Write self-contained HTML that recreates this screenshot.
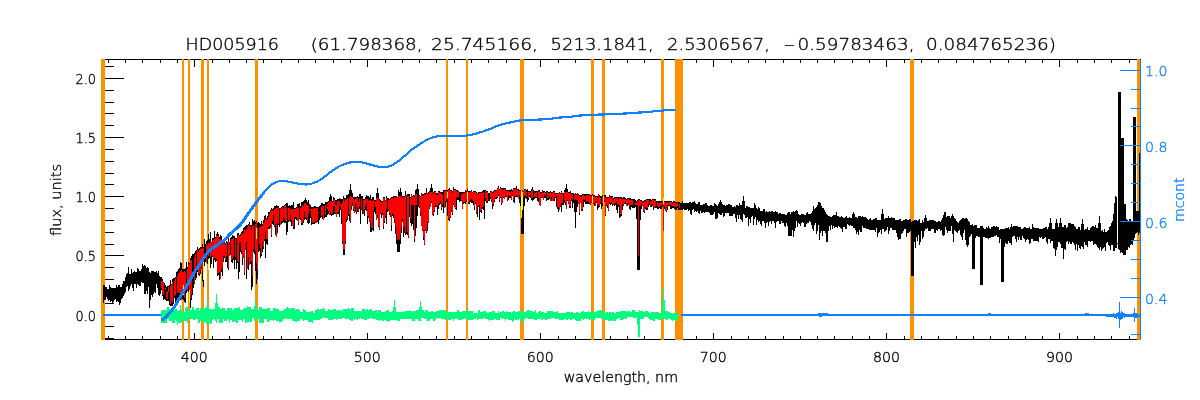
<!DOCTYPE html>
<html><head><meta charset="utf-8"><title>HD005916</title>
<style>html,body{margin:0;padding:0;background:#fff;overflow:hidden}svg{display:block}text{font-family:"DejaVu Sans","Liberation Sans",sans-serif;font-weight:200;stroke-width:.35px}</style></head><body>
<svg width="1200" height="400" viewBox="0 0 1200 400">
<rect width="1200" height="400" fill="#fff"/>
<g stroke="#000" stroke-width="1" shape-rendering="crispEdges" fill="none">
<path d="M103.5 59.5H1140.5M103.5 339.5H1140.5M103.5 59.5V339.5"/>
<path d="M108.5 59.5v3.5M108.5 339.5v-3.5M125.5 59.5v3.5M125.5 339.5v-3.5M142.5 59.5v3.5M142.5 339.5v-3.5M160.5 59.5v3.5M160.5 339.5v-3.5M177.5 59.5v3.5M177.5 339.5v-3.5M194.5 59.5v7.0M194.5 339.5v-7.0M212.5 59.5v3.5M212.5 339.5v-3.5M229.5 59.5v3.5M229.5 339.5v-3.5M246.5 59.5v3.5M246.5 339.5v-3.5M263.5 59.5v3.5M263.5 339.5v-3.5M281.5 59.5v3.5M281.5 339.5v-3.5M298.5 59.5v3.5M298.5 339.5v-3.5M315.5 59.5v3.5M315.5 339.5v-3.5M333.5 59.5v3.5M333.5 339.5v-3.5M350.5 59.5v3.5M350.5 339.5v-3.5M367.5 59.5v7.0M367.5 339.5v-7.0M385.5 59.5v3.5M385.5 339.5v-3.5M402.5 59.5v3.5M402.5 339.5v-3.5M419.5 59.5v3.5M419.5 339.5v-3.5M436.5 59.5v3.5M436.5 339.5v-3.5M454.5 59.5v3.5M454.5 339.5v-3.5M471.5 59.5v3.5M471.5 339.5v-3.5M488.5 59.5v3.5M488.5 339.5v-3.5M506.5 59.5v3.5M506.5 339.5v-3.5M523.5 59.5v3.5M523.5 339.5v-3.5M540.5 59.5v7.0M540.5 339.5v-7.0M558.5 59.5v3.5M558.5 339.5v-3.5M575.5 59.5v3.5M575.5 339.5v-3.5M592.5 59.5v3.5M592.5 339.5v-3.5M610.5 59.5v3.5M610.5 339.5v-3.5M627.5 59.5v3.5M627.5 339.5v-3.5M644.5 59.5v3.5M644.5 339.5v-3.5M661.5 59.5v3.5M661.5 339.5v-3.5M679.5 59.5v3.5M679.5 339.5v-3.5M696.5 59.5v3.5M696.5 339.5v-3.5M713.5 59.5v7.0M713.5 339.5v-7.0M731.5 59.5v3.5M731.5 339.5v-3.5M748.5 59.5v3.5M748.5 339.5v-3.5M765.5 59.5v3.5M765.5 339.5v-3.5M783.5 59.5v3.5M783.5 339.5v-3.5M800.5 59.5v3.5M800.5 339.5v-3.5M817.5 59.5v3.5M817.5 339.5v-3.5M834.5 59.5v3.5M834.5 339.5v-3.5M852.5 59.5v3.5M852.5 339.5v-3.5M869.5 59.5v3.5M869.5 339.5v-3.5M886.5 59.5v7.0M886.5 339.5v-7.0M904.5 59.5v3.5M904.5 339.5v-3.5M921.5 59.5v3.5M921.5 339.5v-3.5M938.5 59.5v3.5M938.5 339.5v-3.5M956.5 59.5v3.5M956.5 339.5v-3.5M973.5 59.5v3.5M973.5 339.5v-3.5M990.5 59.5v3.5M990.5 339.5v-3.5M1008.5 59.5v3.5M1008.5 339.5v-3.5M1025.5 59.5v3.5M1025.5 339.5v-3.5M1042.5 59.5v3.5M1042.5 339.5v-3.5M1059.5 59.5v7.0M1059.5 339.5v-7.0M1077.5 59.5v3.5M1077.5 339.5v-3.5M1094.5 59.5v3.5M1094.5 339.5v-3.5M1111.5 59.5v3.5M1111.5 339.5v-3.5M1129.5 59.5v3.5M1129.5 339.5v-3.5"/>
<path d="M103.5 338.5h10M103.5 326.5h10M103.5 315.5h20M103.5 303.5h10M103.5 291.5h10M103.5 279.5h10M103.5 267.5h10M103.5 255.5h20M103.5 244.5h10M103.5 232.5h10M103.5 220.5h10M103.5 208.5h10M103.5 196.5h20M103.5 184.5h10M103.5 173.5h10M103.5 161.5h10M103.5 149.5h10M103.5 137.5h20M103.5 125.5h10M103.5 113.5h10M103.5 102.5h10M103.5 90.5h10M103.5 78.5h20M103.5 66.5h10"/>
</g>
<g fill="#ff9000" shape-rendering="crispEdges">
<rect x="101" y="59" width="4" height="281"/>
<rect x="182" y="59" width="2" height="281"/>
<rect x="188" y="59" width="2" height="281"/>
<rect x="201" y="59" width="3" height="281"/>
<rect x="207" y="59" width="2" height="281"/>
<rect x="255" y="59" width="3" height="281"/>
<rect x="446" y="59" width="2" height="281"/>
<rect x="466" y="59" width="2" height="281"/>
<rect x="520" y="59" width="4" height="281"/>
<rect x="591" y="59" width="3" height="281"/>
<rect x="602" y="59" width="3" height="281"/>
<rect x="661" y="59" width="3" height="281"/>
<rect x="675" y="59" width="8" height="281"/>
<rect x="910" y="59" width="4" height="281"/>
<rect x="1137" y="59" width="3" height="281"/>
</g>
<g fill="none" stroke-width="1" shape-rendering="crispEdges">
<path stroke="#000" d="M103.5 285V303M104.5 285V300M105.5 287V300M106.5 287V297M107.5 289V299M108.5 289V301M109.5 285V300M110.5 287V302M111.5 288V301M112.5 288V303M113.5 288V302M114.5 288V300M115.5 288V299M116.5 285V302M117.5 287V301M118.5 285V302M119.5 285V305M120.5 287V303M121.5 287V299M122.5 284V298M123.5 281V296M124.5 281V294M125.5 277V292M126.5 274V287M127.5 273V286M128.5 267V291M129.5 274V289M130.5 274V286M131.5 269V284M132.5 273V288M133.5 272V291M134.5 271V284M135.5 272V284M136.5 272V288M137.5 268V284M138.5 269V285M139.5 271V286M140.5 271V286M141.5 269V282M142.5 264V283M143.5 266V283M144.5 265V294M145.5 266V294M146.5 268V291M147.5 267V294M148.5 268V287M149.5 272V308M150.5 273V300M151.5 271V295M152.5 271V297M153.5 271V294M154.5 272V292M155.5 272V293M156.5 271V284M157.5 273V288M158.5 271V295M159.5 276V296M160.5 277V294M161.5 277V290M162.5 279V296M163.5 282V300M164.5 283V299M165.5 285V300M166.5 287V301M167.5 286V301M168.5 286V301M169.5 285V305M170.5 280V306M171.5 284V306M172.5 279V306M173.5 278V304M174.5 278V298M175.5 277V304M176.5 272V303M177.5 271V299M178.5 269V299M179.5 268V295M180.5 262V300M181.5 263V299M182.5 269V299M183.5 269V300M184.5 269V302M185.5 268V303M186.5 262V293M187.5 267V291M188.5 262V292M189.5 263V301M190.5 258V308M191.5 256V300M192.5 254V295M193.5 254V288M194.5 253V284M195.5 251V280M196.5 250V278M197.5 247V272M198.5 249V275M199.5 248V276M200.5 247V274M201.5 247V269M202.5 244V281M203.5 247V287M204.5 239V266M205.5 244V262M206.5 241V261M207.5 240V264M208.5 234V264M209.5 239V258M210.5 232V268M211.5 242V264M212.5 238V257M213.5 238V268M214.5 231V260M215.5 237V262M216.5 234V261M217.5 232V276M218.5 234V275M219.5 237V280M220.5 235V277M221.5 236V272M222.5 241V276M223.5 241V262M224.5 241V258M225.5 243V262M226.5 241V262M227.5 242V268M228.5 237V270M229.5 242V256M230.5 238V255M231.5 237V262M232.5 235V263M233.5 236V260M234.5 236V269M235.5 238V260M236.5 238V269M237.5 233V263M238.5 233V279M239.5 235V272M240.5 234V252M241.5 232V254M242.5 231V265M243.5 228V258M244.5 227V275M245.5 226V248M246.5 225V279M247.5 225V267M248.5 224V270M249.5 222V263M250.5 225V264M251.5 225V290M252.5 219V287M253.5 221V252M254.5 220V254M255.5 222V271M256.5 221V284M257.5 223V279M258.5 222V252M259.5 223V251M260.5 224V258M261.5 221V256M262.5 224V252M263.5 220V249M264.5 216V241M265.5 215V258M266.5 218V244M267.5 216V245M268.5 212V229M269.5 212V229M270.5 210V228M271.5 208V237M272.5 209V224M273.5 208V225M274.5 206V227M275.5 206V235M276.5 205V235M277.5 206V233M278.5 206V225M279.5 208V227M280.5 208V224M281.5 207V224M282.5 206V223M283.5 206V222M284.5 205V223M285.5 204V223M286.5 203V235M287.5 203V232M288.5 206V222M289.5 205V221M290.5 206V222M291.5 205V226M292.5 205V224M293.5 202V229M294.5 208V229M295.5 208V219M296.5 207V220M297.5 204V221M298.5 204V225M299.5 203V219M300.5 206V220M301.5 202V225M302.5 202V225M303.5 201V223M304.5 200V220M305.5 198V219M306.5 200V220M307.5 202V223M308.5 200V224M309.5 204V223M310.5 205V218M311.5 207V225M312.5 207V224M313.5 207V224M314.5 206V224M315.5 206V223M316.5 207V222M317.5 207V222M318.5 207V224M319.5 206V220M320.5 205V218M321.5 203V217M322.5 203V219M323.5 204V219M324.5 204V218M325.5 202V217M326.5 202V217M327.5 202V215M328.5 201V214M329.5 197V214M330.5 194V215M331.5 196V216M332.5 201V215M333.5 197V215M334.5 198V214M335.5 200V214M336.5 200V215M337.5 199V214M338.5 199V214M339.5 198V217M340.5 199V210M341.5 199V224M342.5 199V244M343.5 196V255M344.5 198V255M345.5 198V244M346.5 195V222M347.5 195V220M348.5 194V216M349.5 190V221M350.5 184V223M351.5 190V210M352.5 193V206M353.5 197V211M354.5 197V212M355.5 197V212M356.5 197V214M357.5 196V212M358.5 197V212M359.5 194V209M360.5 194V224M361.5 196V210M362.5 196V214M363.5 199V213M364.5 199V216M365.5 197V210M366.5 195V211M367.5 196V224M368.5 196V218M369.5 197V220M370.5 195V232M371.5 199V232M372.5 197V230M373.5 197V231M374.5 200V212M375.5 200V214M376.5 193V218M377.5 188V218M378.5 193V227M379.5 199V230M380.5 200V214M381.5 201V218M382.5 201V215M383.5 197V229M384.5 197V223M385.5 200V218M386.5 196V224M387.5 198V212M388.5 198V211M389.5 199V215M390.5 198V217M391.5 197V231M392.5 197V216M393.5 196V218M394.5 196V223M395.5 196V234M396.5 196V244M397.5 197V252M398.5 190V252M399.5 192V252M400.5 188V244M401.5 192V233M402.5 196V222M403.5 196V237M404.5 196V233M405.5 191V235M406.5 195V234M407.5 194V235M408.5 194V238M409.5 194V217M410.5 197V223M411.5 194V226M412.5 196V224M413.5 195V230M414.5 195V242M415.5 190V236M416.5 189V228M417.5 184V216M418.5 189V207M419.5 195V208M420.5 196V216M421.5 193V225M422.5 194V231M423.5 194V240M424.5 193V245M425.5 193V231M426.5 188V233M427.5 193V231M428.5 192V223M429.5 191V209M430.5 188V206M431.5 184V203M432.5 188V215M433.5 192V216M434.5 191V212M435.5 191V207M436.5 193V207M437.5 193V215M438.5 191V209M439.5 191V205M440.5 192V204M441.5 192V210M442.5 192V207M443.5 190V213M444.5 190V206M445.5 190V207M446.5 190V202M447.5 190V216M448.5 189V220M449.5 188V221M450.5 190V218M451.5 190V212M452.5 191V215M453.5 187V205M454.5 189V207M455.5 189V209M456.5 190V210M457.5 190V200M458.5 191V200M459.5 192V202M460.5 192V201M461.5 192V201M462.5 192V208M463.5 192V204M464.5 192V203M465.5 190V204M466.5 191V202M467.5 189V202M468.5 191V204M469.5 191V204M470.5 191V202M471.5 190V203M472.5 192V203M473.5 191V205M474.5 191V210M475.5 191V204M476.5 192V214M477.5 193V217M478.5 192V207M479.5 192V220M480.5 192V212M481.5 192V213M482.5 191V209M483.5 190V210M484.5 190V219M485.5 190V201M486.5 191V203M487.5 191V203M488.5 193V201M489.5 193V201M490.5 191V199M491.5 191V202M492.5 192V209M493.5 191V206M494.5 190V202M495.5 190V199M496.5 190V199M497.5 188V198M498.5 186V196M499.5 189V202M500.5 187V198M501.5 188V205M502.5 188V201M503.5 188V198M504.5 188V198M505.5 188V197M506.5 190V197M507.5 190V201M508.5 190V200M509.5 190V198M510.5 190V198M511.5 189V198M512.5 190V196M513.5 188V202M514.5 188V203M515.5 188V197M516.5 186V197M517.5 189V197M518.5 189V197M519.5 190V203M520.5 190V206M521.5 190V234M522.5 190V234M523.5 191V234M524.5 189V206M525.5 189V198M526.5 190V199M527.5 189V202M528.5 191V200M529.5 191V197M530.5 191V198M531.5 189V200M532.5 187V201M533.5 190V200M534.5 191V199M535.5 191V198M536.5 191V198M537.5 191V201M538.5 190V202M539.5 190V205M540.5 192V205M541.5 192V198M542.5 190V198M543.5 191V198M544.5 191V198M545.5 192V198M546.5 191V201M547.5 191V200M548.5 192V200M549.5 192V199M550.5 191V199M551.5 192V201M552.5 192V200M553.5 191V201M554.5 191V201M555.5 193V198M556.5 193V207M557.5 193V209M558.5 193V212M559.5 192V209M560.5 193V207M561.5 191V212M562.5 193V205M563.5 193V205M564.5 190V203M565.5 188V205M566.5 184V208M567.5 189V201M568.5 192V204M569.5 192V208M570.5 191V208M571.5 193V201M572.5 193V208M573.5 193V203M574.5 194V212M575.5 193V228M576.5 194V212M577.5 193V207M578.5 194V203M579.5 195V215M580.5 195V202M581.5 195V211M582.5 194V211M583.5 194V207M584.5 194V202M585.5 194V204M586.5 194V204M587.5 194V204M588.5 194V204M589.5 194V204M590.5 195V205M591.5 195V203M592.5 194V203M593.5 195V204M594.5 195V206M595.5 196V204M596.5 196V203M597.5 196V210M598.5 194V208M599.5 195V207M600.5 196V204M601.5 196V209M602.5 195V206M603.5 196V202M604.5 195V202M605.5 195V216M606.5 197V206M607.5 197V208M608.5 197V211M609.5 195V204M610.5 196V205M611.5 196V204M612.5 196V206M613.5 198V204M614.5 197V206M615.5 197V205M616.5 197V210M617.5 197V213M618.5 197V207M619.5 197V218M620.5 197V217M621.5 197V216M622.5 198V210M623.5 197V206M624.5 197V204M625.5 198V204M626.5 199V205M627.5 198V206M628.5 198V205M629.5 198V209M630.5 198V210M631.5 199V207M632.5 199V208M633.5 199V208M634.5 199V208M635.5 200V207M636.5 201V219M637.5 200V270M638.5 199V270M639.5 199V270M640.5 200V220M641.5 200V209M642.5 201V206M643.5 201V212M644.5 200V213M645.5 200V209M646.5 199V210M647.5 199V210M648.5 199V207M649.5 199V205M650.5 199V207M651.5 200V207M652.5 199V206M653.5 199V210M654.5 199V206M655.5 199V208M656.5 201V208M657.5 201V209M658.5 201V209M659.5 201V208M660.5 201V209M661.5 201V209M662.5 201V207M663.5 201V231M664.5 201V209M665.5 201V211M666.5 201V212M667.5 201V210M668.5 201V206M669.5 201V206M670.5 201V209M671.5 201V209M672.5 202V208M673.5 201V208M674.5 201V209M675.5 202V210M676.5 202V210M677.5 202V208M678.5 202V210M679.5 202V210M680.5 203V210M681.5 203V210M682.5 201V210M683.5 203V209M684.5 203V210M685.5 203V210M686.5 203V210M687.5 203V209M688.5 203V211M689.5 202V210M690.5 202V214M691.5 203V215M692.5 202V210M693.5 202V209M694.5 201V212M695.5 203V211M696.5 204V212M697.5 204V211M698.5 202V213M699.5 202V214M700.5 205V211M701.5 205V213M702.5 205V213M703.5 204V212M704.5 204V213M705.5 203V212M706.5 203V212M707.5 205V212M708.5 206V212M709.5 206V213M710.5 205V215M711.5 205V215M712.5 206V215M713.5 206V214M714.5 203V212M715.5 204V219M716.5 205V219M717.5 206V218M718.5 204V213M719.5 202V214M720.5 200V215M721.5 202V215M722.5 204V213M723.5 205V217M724.5 205V216M725.5 206V213M726.5 205V213M727.5 205V213M728.5 204V213M729.5 204V216M730.5 205V216M731.5 205V216M732.5 207V216M733.5 207V214M734.5 206V214M735.5 207V218M736.5 205V222M737.5 205V215M738.5 206V219M739.5 203V215M740.5 205V219M741.5 205V220M742.5 201V222M743.5 196V214M744.5 201V215M745.5 208V218M746.5 206V218M747.5 206V217M748.5 207V226M749.5 207V219M750.5 208V223M751.5 208V217M752.5 208V216M753.5 208V225M754.5 203V219M755.5 205V217M756.5 208V225M757.5 209V220M758.5 207V222M759.5 208V221M760.5 211V224M761.5 211V226M762.5 211V221M763.5 209V221M764.5 209V223M765.5 212V228M766.5 211V223M767.5 212V222M768.5 212V226M769.5 211V222M770.5 212V221M771.5 211V224M772.5 211V221M773.5 212V221M774.5 212V223M775.5 211V228M776.5 212V222M777.5 212V221M778.5 214V221M779.5 213V224M780.5 213V224M781.5 214V221M782.5 214V223M783.5 214V223M784.5 214V226M785.5 215V227M786.5 215V223M787.5 213V226M788.5 212V236M789.5 212V236M790.5 214V236M791.5 212V236M792.5 212V230M793.5 211V237M794.5 212V231M795.5 211V228M796.5 210V221M797.5 211V227M798.5 214V223M799.5 215V224M800.5 215V226M801.5 214V223M802.5 214V222M803.5 214V223M804.5 215V227M805.5 215V227M806.5 213V224M807.5 212V223M808.5 214V223M809.5 214V221M810.5 214V222M811.5 213V225M812.5 211V229M813.5 206V231M814.5 209V225M815.5 208V223M816.5 207V234M817.5 205V231M818.5 202V225M819.5 202V240M820.5 203V233M821.5 206V231M822.5 208V236M823.5 208V231M824.5 210V231M825.5 212V233M826.5 214V242M827.5 215V242M828.5 216V231M829.5 216V226M830.5 217V230M831.5 217V225M832.5 216V229M833.5 215V226M834.5 215V228M835.5 215V227M836.5 212V227M837.5 216V228M838.5 216V226M839.5 217V227M840.5 217V228M841.5 216V229M842.5 217V232M843.5 218V227M844.5 218V227M845.5 217V229M846.5 216V229M847.5 218V224M848.5 218V225M849.5 217V226M850.5 218V225M851.5 218V226M852.5 214V226M853.5 212V228M854.5 214V228M855.5 217V230M856.5 217V234M857.5 218V232M858.5 216V235M859.5 216V230M860.5 216V232M861.5 217V232M862.5 216V226M863.5 217V228M864.5 217V228M865.5 217V228M866.5 218V229M867.5 219V229M868.5 220V229M869.5 219V230M870.5 218V230M871.5 220V230M872.5 220V230M873.5 219V230M874.5 219V230M875.5 218V232M876.5 218V228M877.5 220V237M878.5 220V233M879.5 220V232M880.5 220V230M881.5 214V234M882.5 209V229M883.5 214V229M884.5 219V232M885.5 218V231M886.5 218V230M887.5 218V227M888.5 216V234M889.5 218V231M890.5 218V228M891.5 217V228M892.5 218V230M893.5 218V230M894.5 218V230M895.5 220V230M896.5 220V233M897.5 220V237M898.5 220V240M899.5 219V239M900.5 219V239M901.5 221V234M902.5 221V233M903.5 220V231M904.5 220V229M905.5 219V229M906.5 219V237M907.5 220V233M908.5 220V233M909.5 219V232M910.5 219V231M911.5 222V276M912.5 221V276M913.5 221V276M914.5 220V242M915.5 220V248M916.5 220V237M917.5 221V241M918.5 220V235M919.5 219V245M920.5 223V242M921.5 223V231M922.5 220V239M923.5 222V237M924.5 218V231M925.5 215V229M926.5 218V229M927.5 221V228M928.5 221V231M929.5 220V231M930.5 220V231M931.5 220V229M932.5 220V229M933.5 220V229M934.5 221V233M935.5 221V233M936.5 222V230M937.5 222V231M938.5 221V229M939.5 221V229M940.5 222V231M941.5 220V230M942.5 218V235M943.5 215V236M944.5 212V235M945.5 212V227M946.5 217V230M947.5 216V233M948.5 216V231M949.5 216V231M950.5 218V231M951.5 216V226M952.5 214V234M953.5 216V242M954.5 218V230M955.5 219V231M956.5 221V232M957.5 222V233M958.5 223V231M959.5 221V230M960.5 220V235M961.5 219V237M962.5 218V240M963.5 218V233M964.5 219V230M965.5 218V240M966.5 218V245M967.5 219V247M968.5 221V245M969.5 222V237M970.5 225V236M971.5 225V234M972.5 224V269M973.5 226V269M974.5 225V269M975.5 225V238M976.5 225V236M977.5 228V236M978.5 228V237M979.5 228V237M980.5 226V285M981.5 226V285M982.5 226V285M983.5 228V237M984.5 229V237M985.5 229V238M986.5 227V238M987.5 228V238M988.5 226V239M989.5 228V238M990.5 229V238M991.5 227V237M992.5 227V237M993.5 226V237M994.5 226V236M995.5 227V236M996.5 226V235M997.5 227V237M998.5 227V237M999.5 230V243M1000.5 229V239M1001.5 229V282M1002.5 229V282M1003.5 229V282M1004.5 229V247M1005.5 228V243M1006.5 228V244M1007.5 228V244M1008.5 227V241M1009.5 229V243M1010.5 227V243M1011.5 224V245M1012.5 227V237M1013.5 226V236M1014.5 226V236M1015.5 226V239M1016.5 226V242M1017.5 226V237M1018.5 227V240M1019.5 227V237M1020.5 227V240M1021.5 229V240M1022.5 229V236M1023.5 228V238M1024.5 227V239M1025.5 227V242M1026.5 228V240M1027.5 228V239M1028.5 228V240M1029.5 227V244M1030.5 229V243M1031.5 229V239M1032.5 224V239M1033.5 227V241M1034.5 228V241M1035.5 228V241M1036.5 228V241M1037.5 228V241M1038.5 228V242M1039.5 229V237M1040.5 229V238M1041.5 229V237M1042.5 229V239M1043.5 228V239M1044.5 228V238M1045.5 227V237M1046.5 227V242M1047.5 229V244M1048.5 227V239M1049.5 223V239M1050.5 218V243M1051.5 223V241M1052.5 229V241M1053.5 229V248M1054.5 229V249M1055.5 223V256M1056.5 219V250M1057.5 223V247M1058.5 227V242M1059.5 223V242M1060.5 218V244M1061.5 223V248M1062.5 227V248M1063.5 227V259M1064.5 225V249M1065.5 225V250M1066.5 228V242M1067.5 227V241M1068.5 223V244M1069.5 223V242M1070.5 223V244M1071.5 224V244M1072.5 224V242M1073.5 224V243M1074.5 226V245M1075.5 227V250M1076.5 229V244M1077.5 229V251M1078.5 227V245M1079.5 227V248M1080.5 230V249M1081.5 224V246M1082.5 219V247M1083.5 224V249M1084.5 230V242M1085.5 229V245M1086.5 229V245M1087.5 227V247M1088.5 230V241M1089.5 230V241M1090.5 228V242M1091.5 227V241M1092.5 226V241M1093.5 226V245M1094.5 227V244M1095.5 225V244M1096.5 228V245M1097.5 228V247M1098.5 223V248M1099.5 216V250M1100.5 223V247M1101.5 231V251M1102.5 230V249M1103.5 232V248M1104.5 229V247M1105.5 232V251M1106.5 232V243M1107.5 231V242M1108.5 230V245M1109.5 227V246M1110.5 226V250M1111.5 223V245M1112.5 221V245M1113.5 214V251M1114.5 203V251M1115.5 196V248M1116.5 197V248M1117.5 244V243M1118.5 92V249M1119.5 92V250M1120.5 92V253M1121.5 138V252M1122.5 138V253M1123.5 138V255M1124.5 204V255M1125.5 204V255M1126.5 219V250M1127.5 220V250M1128.5 221V247M1129.5 219V248M1130.5 219V245M1131.5 222V244M1132.5 222V245M1133.5 117V241M1134.5 117V238M1135.5 117V234M1136.5 211V233M1137.5 211V232M1138.5 211V235M1139.5 153V233M1140.5 153V237"/>
<path stroke="#ff0000" d="M161.5 281V288M162.5 281V294M163.5 283V295M165.5 288V290M166.5 292V298M167.5 291V299M168.5 287V292M170.5 286V304M171.5 285V300M172.5 282V303M174.5 281V296M175.5 278V295M177.5 276V293M178.5 273V292M179.5 273V293M180.5 271V294M181.5 270V300M182.5 272V296M183.5 272V291M184.5 271V298M185.5 272V290M187.5 269V290M188.5 265V281M189.5 264V291M190.5 261V298M191.5 260V294M194.5 258V283M195.5 254V273M197.5 250V270M198.5 252V273M199.5 249V274M200.5 249V270M201.5 248V267M202.5 249V271M203.5 248V265M206.5 244V263M207.5 245V255M208.5 243V256M209.5 243V248M210.5 241V257M211.5 243V255M212.5 241V256M213.5 240V259M214.5 239V258M215.5 238V258M216.5 235V259M217.5 236V273M218.5 236V273M219.5 239V272M220.5 239V279M221.5 240V270M222.5 244V267M223.5 242V256M224.5 243V256M225.5 245V260M226.5 243V256M228.5 241V268M229.5 245V256M230.5 241V244M231.5 239V260M232.5 239V259M233.5 238V256M235.5 239V257M237.5 236V261M238.5 235V262M239.5 236V243M240.5 236V242M241.5 234V251M242.5 234V258M243.5 233V257M244.5 229V273M245.5 230V250M246.5 230V242M247.5 228V269M248.5 226V257M249.5 224V265M250.5 226V262M251.5 230V261M252.5 225V276M253.5 226V249M255.5 224V251M256.5 222V263M257.5 228V270M259.5 227V244M260.5 227V248M261.5 226V254M262.5 226V242M263.5 223V247M264.5 222V239M265.5 218V232M266.5 219V239M267.5 219V239M268.5 217V227M269.5 214V226M270.5 211V225M271.5 210V235M272.5 210V221M273.5 211V215M274.5 209V226M275.5 209V224M276.5 208V237M277.5 208V223M278.5 207V224M280.5 209V225M281.5 208V221M282.5 207V221M283.5 209V217M284.5 206V219M285.5 205V221M286.5 208V221M288.5 208V220M289.5 208V220M290.5 210V215M291.5 209V220M292.5 209V226M293.5 209V227M294.5 209V217M295.5 209V217M296.5 208V217M297.5 207V221M298.5 208V223M300.5 208V218M301.5 207V223M302.5 205V223M303.5 206V220M304.5 203V212M305.5 203V218M306.5 204V217M307.5 206V221M308.5 205V214M310.5 209V211M311.5 209V217M312.5 209V223M313.5 208V222M314.5 208V222M315.5 208V222M316.5 208V223M317.5 208V220M318.5 212V213M321.5 207V216M322.5 206V215M323.5 206V220M325.5 205V215M326.5 207V208M327.5 204V209M328.5 202V211M329.5 202V215M330.5 201V212M331.5 201V214M332.5 202V213M333.5 200V206M334.5 199V206M335.5 205V213M336.5 205V217M337.5 201V212M338.5 201V212M339.5 201V205M340.5 204V207M341.5 204V210M342.5 202V241M343.5 199V249M344.5 201V249M345.5 199V241M346.5 200V219M347.5 198V217M349.5 198V214M350.5 196V221M351.5 197V206M352.5 197V202M353.5 199V209M354.5 200V213M355.5 199V203M356.5 198V212M357.5 198V207M358.5 202V211M359.5 199V206M361.5 199V209M363.5 200V214M364.5 200V209M365.5 199V206M366.5 199V203M367.5 199V216M368.5 201V216M369.5 200V222M370.5 200V222M371.5 201V228M372.5 201V228M373.5 200V211M374.5 201V204M375.5 202V207M376.5 198V220M377.5 198V215M378.5 198V226M379.5 200V229M380.5 202V213M381.5 202V213M382.5 203V213M383.5 198V226M384.5 198V221M385.5 201V216M386.5 198V209M388.5 200V210M389.5 200V213M390.5 199V215M391.5 198V225M392.5 198V213M393.5 198V215M394.5 197V219M395.5 197V226M396.5 197V234M397.5 198V240M398.5 196V239M399.5 196V240M400.5 196V234M401.5 196V226M402.5 198V218M403.5 197V228M404.5 197V226M405.5 195V233M407.5 195V232M408.5 196V237M410.5 198V218M411.5 195V205M412.5 197V205M413.5 196V205M414.5 197V239M415.5 194V205M416.5 194V205M419.5 196V207M420.5 197V213M421.5 194V226M422.5 196V230M423.5 195V237M424.5 194V244M425.5 195V230M426.5 193V232M427.5 194V222M428.5 194V222M429.5 192V208M430.5 192V207M431.5 192V201M432.5 192V214M433.5 194V214M434.5 192V210M435.5 192V205M436.5 195V206M437.5 195V206M438.5 192V204M439.5 193V203M440.5 193V201M441.5 194V208M442.5 194V204M444.5 191V208M445.5 191V201M446.5 191V200M447.5 191V199M448.5 190V218M449.5 190V219M450.5 191V217M451.5 191V210M452.5 193V213M453.5 190V203M454.5 190V206M455.5 190V208M456.5 191V198M457.5 192V197M458.5 192V197M461.5 194V200M462.5 193V209M463.5 193V202M464.5 193V202M465.5 192V202M466.5 192V200M467.5 191V200M468.5 192V203M469.5 192V201M470.5 192V200M471.5 191V199M472.5 193V200M473.5 192V201M474.5 192V207M475.5 192V202M476.5 193V213M477.5 194V206M478.5 194V206M479.5 193V205M480.5 193V211M481.5 193V210M482.5 193V207M483.5 192V206M485.5 191V198M486.5 192V201M487.5 192V201M490.5 192V197M491.5 192V200M492.5 193V203M493.5 193V205M494.5 191V200M495.5 191V198M496.5 191V197M497.5 189V197M498.5 188V194M499.5 190V200M500.5 188V197M501.5 189V203M502.5 189V203M503.5 190V197M504.5 189V199M505.5 190V196M506.5 191V196M507.5 191V200M508.5 191V195M509.5 192V196M510.5 192V196M511.5 191V200M512.5 192V195M513.5 189V200M514.5 189V196M515.5 189V196M516.5 189V195M517.5 190V196M518.5 191V199M519.5 191V195M520.5 191V197M521.5 191V197M522.5 191V196M523.5 192V197M524.5 190V195M525.5 190V196M526.5 192V197M528.5 192V198M529.5 192V195M530.5 193V195M531.5 191V198M532.5 190V198M534.5 193V197M535.5 193V197M536.5 192V197M538.5 191V198M539.5 192V204M540.5 194V206M541.5 193V197M542.5 191V197M543.5 193V200M544.5 192V195M545.5 193V195M547.5 192V199M548.5 193V198M549.5 194V196M550.5 192V201M551.5 193V197M552.5 193V201M553.5 192V201M554.5 192V197M555.5 194V197M556.5 194V196M557.5 194V207M558.5 194V207M559.5 193V210M560.5 194V206M561.5 192V203M562.5 194V203M564.5 192V200M565.5 192V203M566.5 192V209M567.5 192V200M568.5 193V203M569.5 193V206M570.5 193V206M571.5 194V198M572.5 194V200M574.5 196V200M575.5 194V199M576.5 195V200M577.5 194V200M578.5 195V204M579.5 196V213M580.5 197V203M581.5 197V210M582.5 195V209M583.5 195V200M584.5 196V200M585.5 196V199M586.5 196V202M587.5 195V201M588.5 195V202M589.5 195V203M590.5 196V204M591.5 196V202M592.5 195V201M593.5 197V203M594.5 196V203M595.5 197V206M596.5 197V201M597.5 198V205M598.5 195V205M599.5 197V206M600.5 198V203M602.5 196V203M603.5 197V199M604.5 197V200M605.5 197V215M606.5 198V205M607.5 198V205M608.5 198V210M609.5 196V202M610.5 197V203M611.5 198V202M612.5 197V204M613.5 200V205M614.5 199V203M615.5 198V203M616.5 198V202M617.5 198V204M618.5 199V205M619.5 198V205M620.5 198V214M621.5 199V214M622.5 199V204M623.5 199V205M624.5 199V203M625.5 200V202M626.5 200V206M627.5 199V203M628.5 199V203M629.5 200V206M630.5 200V205M631.5 200V205M632.5 200V205M635.5 202V205M636.5 203V205M637.5 201V205M638.5 200V256M639.5 200V206M640.5 201V206M641.5 201V204M642.5 202V205M643.5 203V211M644.5 201V212M645.5 202V207M646.5 200V208M647.5 200V208M648.5 200V204M650.5 201V206M651.5 201V204M652.5 200V204M653.5 200V207M654.5 201V208M655.5 200V206M657.5 202V206M658.5 203V207M659.5 203V207M660.5 202V205M661.5 203V206M662.5 202V205M663.5 202V231M664.5 202V206M665.5 202V211M666.5 203V211M667.5 202V205M668.5 203V205M669.5 202V205M670.5 202V205M671.5 202V206M672.5 204V206M673.5 202V206M674.5 203V207M675.5 203V206M676.5 203V207M677.5 203V206M679.5 204V208"/>
</g>
<g stroke="#0f80ff" stroke-width="1" shape-rendering="crispEdges" fill="none">
<path d="M1140.5 59.5V339.5M1140.5 70.5h-21M1140.5 89.5h-10M1140.5 108.5h-10M1140.5 126.5h-10M1140.5 145.5h-21M1140.5 164.5h-10M1140.5 183.5h-10M1140.5 202.5h-10M1140.5 221.5h-21M1140.5 240.5h-10M1140.5 259.5h-10M1140.5 278.5h-10M1140.5 297.5h-21M1140.5 315.5h-10M1140.5 334.5h-10"/>
</g>
<g stroke="#ffff00" stroke-width="1" fill="none" shape-rendering="crispEdges">
<path d="M521.5 190.0V218.0"/>
<path d="M522.5 192.0V210.0"/>
<path d="M203.5 262.0V280.0"/>
<path d="M208.5 259.0V270.0"/>
<path d="M256.5 228.0V239.0"/>
<path d="M189.5 290.0V302.0"/>
<path d="M592.5 196.0V203.0"/>
<path d="M603.5 196.0V203.0"/>
<path d="M447.5 192.0V198.0"/>
<path d="M467.5 192.0V202.0"/>
<path d="M663.5 198.0V204.0"/>
<path d="M183.5 285.0V295.0"/>
</g>
<path fill="none" stroke-width="1" shape-rendering="crispEdges" stroke="#00ff7f" d="M161.5 311V323M162.5 310V323M163.5 310V323M164.5 310V323M165.5 310V323M166.5 311V323M167.5 307V319M168.5 307V319M169.5 309V321M170.5 309V321M171.5 310V321M172.5 308V323M173.5 308V323M174.5 310V323M175.5 309V320M176.5 309V321M177.5 311V325M178.5 311V323M179.5 310V323M180.5 305V323M181.5 310V322M182.5 312V321M183.5 312V321M184.5 312V321M185.5 308V321M186.5 307V321M187.5 307V323M188.5 308V319M189.5 310V319M190.5 310V319M191.5 310V319M192.5 307V319M193.5 307V320M194.5 310V320M195.5 310V319M196.5 308V319M197.5 308V319M198.5 308V323M199.5 311V323M200.5 308V321M201.5 308V321M202.5 308V321M203.5 309V322M204.5 309V322M205.5 308V322M206.5 307V324M207.5 300V324M208.5 307V324M209.5 309V323M210.5 309V324M211.5 309V323M212.5 310V320M213.5 309V319M214.5 309V319M215.5 303V321M216.5 294V323M217.5 303V319M218.5 307V319M219.5 307V323M220.5 309V323M221.5 309V323M222.5 308V323M223.5 308V319M224.5 308V321M225.5 311V321M226.5 311V321M227.5 308V319M228.5 308V319M229.5 308V323M230.5 308V320M231.5 308V320M232.5 310V322M233.5 310V322M234.5 308V321M235.5 308V322M236.5 308V323M237.5 308V323M238.5 308V320M239.5 307V320M240.5 310V320M241.5 310V320M242.5 310V322M243.5 309V319M244.5 308V319M245.5 308V323M246.5 308V323M247.5 306V322M248.5 307V322M249.5 307V322M250.5 307V322M251.5 309V322M252.5 309V318M253.5 309V318M254.5 306V321M255.5 299V321M256.5 306V319M257.5 310V319M258.5 310V319M259.5 307V323M260.5 307V323M261.5 307V323M262.5 309V323M263.5 309V323M264.5 309V319M265.5 309V319M266.5 309V319M267.5 308V322M268.5 308V322M269.5 308V321M270.5 311V320M271.5 311V320M272.5 311V320M273.5 308V321M274.5 308V320M275.5 308V320M276.5 309V321M277.5 309V321M278.5 309V321M279.5 311V322M280.5 311V322M281.5 311V322M282.5 311V321M283.5 310V319M284.5 309V319M285.5 309V318M286.5 308V319M287.5 307V319M288.5 308V319M289.5 308V319M290.5 309V319M291.5 308V319M292.5 308V321M293.5 308V321M294.5 308V321M295.5 310V322M296.5 310V322M297.5 309V321M298.5 309V321M299.5 310V321M300.5 312V319M301.5 312V319M302.5 312V320M303.5 309V321M304.5 310V320M305.5 310V320M306.5 312V320M307.5 312V320M308.5 312V322M309.5 312V322M310.5 312V322M311.5 311V322M312.5 311V323M313.5 313V320M314.5 313V320M315.5 310V320M316.5 310V320M317.5 309V320M318.5 309V320M319.5 310V320M320.5 309V319M321.5 309V319M322.5 309V318M323.5 308V317M324.5 309V318M325.5 311V318M326.5 311V318M327.5 311V318M328.5 309V320M329.5 310V320M330.5 310V320M331.5 310V320M332.5 310V320M333.5 309V319M334.5 309V319M335.5 309V319M336.5 311V320M337.5 310V319M338.5 310V319M339.5 310V319M340.5 311V319M341.5 310V319M342.5 311V318M343.5 309V318M344.5 309V318M345.5 309V319M346.5 309V319M347.5 309V319M348.5 308V318M349.5 309V320M350.5 310V320M351.5 308V321M352.5 308V321M353.5 308V319M354.5 311V320M355.5 311V319M356.5 311V319M357.5 311V320M358.5 311V319M359.5 311V319M360.5 311V318M361.5 311V319M362.5 309V319M363.5 309V319M364.5 309V320M365.5 310V320M366.5 310V320M367.5 309V319M368.5 310V319M369.5 310V319M370.5 309V318M371.5 309V318M372.5 311V319M373.5 311V319M374.5 311V319M375.5 310V319M376.5 310V320M377.5 313V320M378.5 310V320M379.5 310V321M380.5 310V320M381.5 312V320M382.5 312V321M383.5 312V321M384.5 312V320M385.5 311V320M386.5 311V321M387.5 310V321M388.5 310V322M389.5 312V321M390.5 312V320M391.5 312V320M392.5 311V320M393.5 307V320M394.5 300V320M395.5 307V320M396.5 312V320M397.5 312V321M398.5 312V321M399.5 312V321M400.5 312V319M401.5 312V319M402.5 312V319M403.5 312V319M404.5 311V319M405.5 312V319M406.5 311V319M407.5 311V319M408.5 311V319M409.5 310V319M410.5 311V319M411.5 311V319M412.5 312V321M413.5 311V321M414.5 311V321M415.5 311V319M416.5 310V319M417.5 310V319M418.5 310V321M419.5 307V321M420.5 301V321M421.5 307V318M422.5 310V318M423.5 310V318M424.5 312V319M425.5 310V319M426.5 310V319M427.5 310V321M428.5 312V321M429.5 312V321M430.5 312V319M431.5 311V319M432.5 311V319M433.5 312V321M434.5 312V321M435.5 312V320M436.5 311V318M437.5 311V318M438.5 311V319M439.5 310V318M440.5 310V318M441.5 310V319M442.5 310V319M443.5 310V319M444.5 310V319M445.5 310V320M446.5 312V319M447.5 312V319M448.5 312V320M449.5 312V320M450.5 312V320M451.5 312V319M452.5 312V319M453.5 312V321M454.5 312V319M455.5 312V319M456.5 312V319M457.5 310V318M458.5 310V320M459.5 312V320M460.5 312V320M461.5 312V320M462.5 311V319M463.5 311V319M464.5 311V319M465.5 311V318M466.5 311V319M467.5 311V319M468.5 311V320M469.5 311V320M470.5 311V320M471.5 311V320M472.5 311V320M473.5 313V319M474.5 313V319M475.5 313V319M476.5 313V318M477.5 313V320M478.5 310V319M479.5 310V319M480.5 312V319M481.5 312V319M482.5 312V319M483.5 311V318M484.5 311V318M485.5 311V319M486.5 312V319M487.5 313V319M488.5 313V320M489.5 312V321M490.5 312V320M491.5 312V320M492.5 311V320M493.5 311V320M494.5 311V319M495.5 313V319M496.5 313V320M497.5 313V320M498.5 311V320M499.5 313V320M500.5 312V318M501.5 312V318M502.5 311V319M503.5 311V318M504.5 312V319M505.5 312V321M506.5 311V319M507.5 312V319M508.5 312V320M509.5 312V320M510.5 312V320M511.5 313V320M512.5 312V322M513.5 311V321M514.5 311V319M515.5 312V320M516.5 312V320M517.5 312V319M518.5 311V320M519.5 311V319M520.5 311V319M521.5 312V323M522.5 312V324M523.5 312V320M524.5 312V319M525.5 312V319M526.5 311V318M527.5 310V318M528.5 310V319M529.5 310V319M530.5 311V319M531.5 311V319M532.5 311V319M533.5 312V319M534.5 312V320M535.5 310V320M536.5 313V320M537.5 313V319M538.5 312V319M539.5 311V319M540.5 311V318M541.5 312V320M542.5 312V320M543.5 312V319M544.5 313V319M545.5 313V320M546.5 313V320M547.5 311V319M548.5 311V319M549.5 311V319M550.5 311V319M551.5 311V318M552.5 311V318M553.5 312V318M554.5 312V318M555.5 312V319M556.5 312V319M557.5 311V319M558.5 313V318M559.5 313V320M560.5 313V320M561.5 313V320M562.5 313V320M563.5 313V320M564.5 313V319M565.5 313V319M566.5 312V320M567.5 312V320M568.5 312V319M569.5 312V319M570.5 313V320M571.5 312V320M572.5 312V319M573.5 313V319M574.5 313V319M575.5 313V320M576.5 312V321M577.5 312V321M578.5 313V321M579.5 313V321M580.5 313V321M581.5 312V319M582.5 311V319M583.5 311V320M584.5 312V319M585.5 312V318M586.5 312V319M587.5 312V319M588.5 311V319M589.5 312V320M590.5 312V319M591.5 312V319M592.5 312V320M593.5 312V320M594.5 312V320M595.5 312V318M596.5 311V318M597.5 311V318M598.5 311V318M599.5 310V318M600.5 310V318M601.5 310V319M602.5 312V319M603.5 311V319M604.5 313V320M605.5 313V320M606.5 312V320M607.5 312V320M608.5 313V321M609.5 312V320M610.5 312V321M611.5 313V321M612.5 312V320M613.5 312V321M614.5 313V321M615.5 313V321M616.5 312V319M617.5 312V319M618.5 312V318M619.5 312V318M620.5 311V320M621.5 311V320M622.5 311V320M623.5 311V319M624.5 311V318M625.5 311V319M626.5 311V319M627.5 312V317M628.5 311V317M629.5 311V317M630.5 312V317M631.5 312V317M632.5 310V317M633.5 310V318M634.5 310V318M635.5 312V318M636.5 312V317M637.5 312V325M638.5 312V337M639.5 310V337M640.5 311V319M641.5 311V319M642.5 311V319M643.5 312V319M644.5 312V317M645.5 311V317M646.5 311V317M647.5 311V317M648.5 312V318M649.5 313V319M650.5 313V320M651.5 312V320M652.5 312V320M653.5 312V321M654.5 313V321M655.5 312V319M656.5 312V319M657.5 312V319M658.5 312V320M659.5 313V320M660.5 313V320M661.5 313V319M662.5 300V319M663.5 288V319M664.5 300V319M665.5 311V319M666.5 311V320M667.5 311V320M668.5 312V318M669.5 312V319M670.5 313V319M671.5 313V320M672.5 314V321M673.5 313V320M674.5 313V320M675.5 313V320M676.5 312V321M677.5 313V321"/>
<g fill="none" stroke="#0f80ff">
<path d="M103 315H161" stroke-width="2"/>
<path d="M681 315H1140" stroke-width="2"/>
<path d="M1106.5 314V317M1107.5 314V317M1108.5 314V317M1109.5 314V317M1110.5 314V317M1111.5 314V317M1112.5 314V317M1113.5 313V317M1114.5 314V318M1115.5 314V318M1116.5 313V319M1117.5 313V317M1118.5 312V319M1119.5 313V318M1120.5 313V320M1121.5 311V319M1122.5 312V319M1123.5 313V317M1124.5 313V318M1125.5 314V317M1126.5 314V317M1127.5 314V317M1128.5 314V317M1129.5 314V317M1130.5 314V317M1131.5 314V317M1132.5 314V317M1133.5 313V317M1134.5 313V318M1135.5 313V318M1136.5 313V318M1137.5 314V318M1138.5 314V317M1139.5 314V317M1119.5 302V328M1134.5 308V322M818 313.5h10M819 316.5h3M1085 313.5h4M988 313.5h3" stroke-width="1" shape-rendering="crispEdges"/>
<polyline points="161.0,320.0 161.4,319.8 162.0,319.6 162.7,319.3 163.4,319.0 164.2,318.6 165.0,318.0 165.8,317.3 166.6,316.5 167.4,315.5 168.3,314.5 169.2,313.5 170.0,312.5 170.8,311.5 171.7,310.5 172.5,309.5 173.3,308.4 174.2,307.2 175.0,306.0 175.8,304.6 176.7,303.1 177.5,301.6 178.3,300.0 179.2,298.5 180.0,297.0 180.8,295.6 181.7,294.3 182.5,293.0 183.3,291.7 184.2,290.4 185.0,289.0 185.8,287.6 186.7,286.1 187.5,284.6 188.3,283.0 189.2,281.5 190.0,280.0 190.8,278.5 191.7,276.9 192.5,275.4 193.3,273.9 194.2,272.4 195.0,271.0 195.8,269.7 196.7,268.6 197.5,267.4 198.3,266.3 199.2,265.2 200.0,264.0 200.8,262.7 201.7,261.3 202.5,259.9 203.3,258.6 204.2,257.2 205.0,256.0 205.8,254.9 206.7,253.8 207.5,252.7 208.3,251.7 209.2,250.8 210.0,250.0 210.8,249.3 211.7,248.6 212.5,248.1 213.3,247.6 214.2,247.1 215.0,246.5 215.8,245.9 216.7,245.3 217.5,244.8 218.3,244.2 219.2,243.6 220.0,243.0 220.8,242.4 221.7,241.9 222.5,241.4 223.3,240.8 224.2,240.2 225.0,239.5 225.8,238.7 226.5,237.9 227.2,237.1 228.0,236.2 228.9,235.1 230.0,234.0 231.4,232.8 233.0,231.4 234.7,230.0 236.5,228.5 238.3,226.8 240.0,225.0 241.7,223.0 243.3,220.7 245.0,218.3 246.7,215.8 248.3,213.4 250.0,211.0 251.7,208.7 253.3,206.4 255.0,204.1 256.7,201.8 258.3,199.6 260.0,197.5 261.7,195.4" stroke-width="3" stroke-linejoin="round" shape-rendering="crispEdges"/>
<polyline points="261.7,195.4 263.3,193.3 265.0,191.2 266.7,189.3 268.3,187.5 270.0,186.0 271.7,184.7 273.3,183.6 275.0,182.7 276.7,182.0 278.3,181.4 280.0,181.0 281.7,180.8 283.3,180.9 285.0,181.1 286.7,181.4 288.3,181.7 290.0,182.0 291.7,182.3 293.3,182.7 295.0,183.1 296.7,183.4 298.3,183.8 300.0,184.0 301.7,184.2 303.3,184.3 305.0,184.4 306.7,184.4 308.3,184.3 310.0,184.0 311.7,183.6 313.3,183.1 315.0,182.5 316.7,181.7 318.3,180.9 320.0,180.0 321.7,178.9 323.3,177.7 325.0,176.4 326.7,175.1 328.3,173.7 330.0,172.5 331.7,171.3 333.3,170.1 335.0,169.0 336.7,167.9 338.3,166.9 340.0,166.0 341.7,165.2 343.3,164.5 345.0,163.9 346.7,163.3 348.3,162.9 350.0,162.5 351.7,162.2 353.3,162.0 355.0,161.9 356.7,161.8 358.3,161.9 360.0,162.0 361.7,162.2 363.3,162.6 365.0,163.1 366.7,163.6 368.3,164.1 370.0,164.5 371.7,164.9 373.3,165.4 375.0,165.8 376.7,166.2 378.3,166.6 380.0,166.8 381.7,166.9 383.3,166.9 385.0,166.9 386.7,166.8 388.3,166.5 390.0,166.0 391.7,165.3 393.3,164.5 395.0,163.5 396.7,162.4 398.3,161.2 400.0,160.0 401.7,158.7 403.3,157.1 405.0,155.6 406.7,154.0 408.3,152.4 410.0,151.0 411.7,149.7 413.3,148.5 415.0,147.3 416.7,146.1 418.3,145.1 420.0,144.0 421.7,143.0 423.3,141.9 425.0,141.0 426.7,140.1 428.3,139.2 430.0,138.5 431.7,137.9 433.3,137.4 435.0,136.9 436.7,136.5 438.3,136.2 440.0,136.0 441.7,135.9 443.3,135.8 445.0,135.8 446.7,135.9 448.3,136.0 450.0,136.0 451.7,136.0 453.3,136.0 455.0,136.1 456.7,136.1 458.3,136.1 460.0,136.0 461.7,135.9 463.3,135.8 465.0,135.7 466.7,135.5 468.3,135.3 470.0,135.0 471.7,134.7 473.3,134.3 475.0,133.9 476.7,133.5 478.3,133.0 480.0,132.5 481.7,132.0 483.3,131.4 485.0,130.8 486.7,130.2 488.3,129.6 490.0,129.0 491.7,128.3 493.3,127.6 495.0,126.9 496.7,126.2 498.3,125.6 500.0,125.0 501.7,124.5 503.3,124.0 505.0,123.6 506.7,123.2 508.3,122.9 510.0,122.5 511.7,122.1 513.3,121.7 515.0,121.4 516.7,121.0 518.3,120.7 520.0,120.5 521.7,120.3 523.3,120.2 525.0,120.2 526.7,120.1 528.3,120.1 530.0,120.0 531.7,119.9 533.3,119.8 535.0,119.8 536.7,119.7 538.3,119.6 540.0,119.5 541.7,119.4 543.3,119.3 545.0,119.2 546.7,119.0 548.3,118.9 550.0,118.8 551.7,118.6 553.3,118.4 555.0,118.1 556.7,117.9 558.3,117.7 560.0,117.5 561.7,117.4 563.3,117.2 565.0,117.1 566.7,117.0 568.3,116.9 570.0,116.8 571.7,116.6 573.3,116.3 575.0,116.1 576.7,115.9 578.3,115.7 580.0,115.5 581.7,115.4 583.3,115.3 585.0,115.2 586.7,115.1 588.3,115.1 590.0,115.0 591.7,114.9 593.3,114.8 595.0,114.7 596.7,114.6 598.3,114.6 600.0,114.5 601.7,114.4 603.3,114.4 605.0,114.4 606.7,114.3 608.3,114.3 610.0,114.2 611.7,114.2 613.3,114.1 615.0,114.0 616.7,113.9 618.3,113.8 620.0,113.8 621.7,113.7 623.3,113.6 625.0,113.5 626.7,113.4 628.3,113.3 630.0,113.2 631.7,113.1 633.3,113.0 635.0,112.9 636.7,112.8 638.3,112.6 640.0,112.5 641.7,112.4 643.3,112.3 645.0,112.1 646.7,112.0 648.3,111.9 650.0,111.8 651.7,111.6 653.3,111.4 655.0,111.2 656.7,111.1 658.3,110.9 660.0,110.8 661.7,110.6 663.5,110.5 665.2,110.3 667.0,110.2 668.6,110.1 670.0,110.0 671.3,110.0 672.5,109.9 673.6,110.0 674.6,110.0 675.4,110.0 676.0,110.0" stroke-width="2.2" stroke-linejoin="round" shape-rendering="crispEdges"/>
</g>
<text y="50" font-size="16.5" fill="#000" stroke="#000" xml:space="default"><tspan x="185.5" textLength="93.5" lengthAdjust="spacingAndGlyphs">HD005916</tspan> <tspan x="310.7" textLength="111.8" lengthAdjust="spacingAndGlyphs">(61.798368,</tspan> <tspan x="431.0" textLength="107.0" lengthAdjust="spacingAndGlyphs">25.745166,</tspan> <tspan x="550.5" textLength="103.2" lengthAdjust="spacingAndGlyphs">5213.1841,</tspan> <tspan x="667.0" textLength="103.0" lengthAdjust="spacingAndGlyphs">2.5306567,</tspan> <tspan x="783.7" textLength="11.0" lengthAdjust="spacingAndGlyphs">-</tspan><tspan x="797.5" textLength="117.0" lengthAdjust="spacingAndGlyphs">0.59783463,</tspan> <tspan x="926.0" textLength="130.0" lengthAdjust="spacingAndGlyphs">0.084765236)</tspan></text>
<text x="180.7" y="362.0" font-size="13.7" textLength="27.0" lengthAdjust="spacingAndGlyphs" fill="#000" stroke="#000">400</text>
<text x="353.8" y="362.0" font-size="13.7" textLength="27.0" lengthAdjust="spacingAndGlyphs" fill="#000" stroke="#000">500</text>
<text x="526.8" y="362.0" font-size="13.7" textLength="27.0" lengthAdjust="spacingAndGlyphs" fill="#000" stroke="#000">600</text>
<text x="699.8" y="362.0" font-size="13.7" textLength="27.0" lengthAdjust="spacingAndGlyphs" fill="#000" stroke="#000">700</text>
<text x="872.9" y="362.0" font-size="13.7" textLength="27.0" lengthAdjust="spacingAndGlyphs" fill="#000" stroke="#000">800</text>
<text x="1046.0" y="362.0" font-size="13.7" textLength="27.0" lengthAdjust="spacingAndGlyphs" fill="#000" stroke="#000">900</text>
<text x="75.5" y="320.5" font-size="13.7" textLength="20.5" lengthAdjust="spacingAndGlyphs" fill="#000" stroke="#000">0.0</text>
<text x="75.5" y="261.4" font-size="13.7" textLength="20.5" lengthAdjust="spacingAndGlyphs" fill="#000" stroke="#000">0.5</text>
<text x="75.5" y="202.2" font-size="13.7" textLength="20.5" lengthAdjust="spacingAndGlyphs" fill="#000" stroke="#000">1.0</text>
<text x="75.5" y="143.1" font-size="13.7" textLength="20.5" lengthAdjust="spacingAndGlyphs" fill="#000" stroke="#000">1.5</text>
<text x="75.5" y="84.0" font-size="13.7" textLength="20.5" lengthAdjust="spacingAndGlyphs" fill="#000" stroke="#000">2.0</text>
<text x="563.7" y="382.0" font-size="13.7" textLength="114.3" lengthAdjust="spacingAndGlyphs" fill="#000" stroke="#000">wavelength, nm</text>
<text x="60.5" y="236.0" font-size="13.7" textLength="72.0" lengthAdjust="spacingAndGlyphs" transform="rotate(-90 60.5 236.0)" fill="#000" stroke="#000">flux, units</text>
<text x="1145.0" y="76.0" font-size="13.7" textLength="22.5" lengthAdjust="spacingAndGlyphs" fill="#0f80ff" stroke="#0f80ff">1.0</text>
<text x="1145.0" y="151.5" font-size="13.7" textLength="22.5" lengthAdjust="spacingAndGlyphs" fill="#0f80ff" stroke="#0f80ff">0.8</text>
<text x="1145.0" y="227.5" font-size="13.7" textLength="22.5" lengthAdjust="spacingAndGlyphs" fill="#0f80ff" stroke="#0f80ff">0.6</text>
<text x="1145.0" y="303.5" font-size="13.7" textLength="22.5" lengthAdjust="spacingAndGlyphs" fill="#0f80ff" stroke="#0f80ff">0.4</text>
<text x="1184.0" y="222.0" font-size="13.7" textLength="44.5" lengthAdjust="spacingAndGlyphs" transform="rotate(-90 1184.0 222.0)" fill="#0f80ff" stroke="#0f80ff">mcont</text>
</svg></body></html>
